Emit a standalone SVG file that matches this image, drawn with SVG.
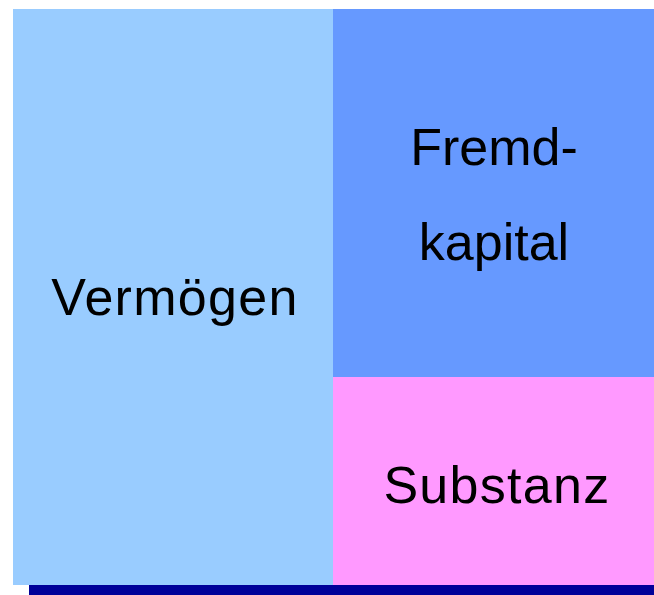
<svg xmlns="http://www.w3.org/2000/svg" width="654" height="595" viewBox="0 0 654 595">
<style>
text{font-family:"Liberation Sans",Arial,sans-serif;font-size:52px;fill:#000;text-anchor:middle}
.w{letter-spacing:1.3px}
</style>
<rect width="654" height="595" fill="#fff"/>
<g id="vermoegen">
<rect x="13" y="9" width="320" height="576" fill="#99CCFF"/>
<text class="w" x="175" y="315">Vermögen</text>
</g>
<g id="fremdkapital">
<rect x="333" y="9" width="321" height="368" fill="#6699FF"/>
<text x="494" y="165">Fremd-</text>
<text x="494" y="260">kapital</text>
</g>
<g id="substanz">
<rect x="333" y="377" width="321" height="208" fill="#FF99FF"/>
<text class="w" x="497" y="503">Substanz</text>
</g>
<g id="base">
<rect x="29" y="585" width="625" height="10" fill="#000099"/>
</g>
</svg>
